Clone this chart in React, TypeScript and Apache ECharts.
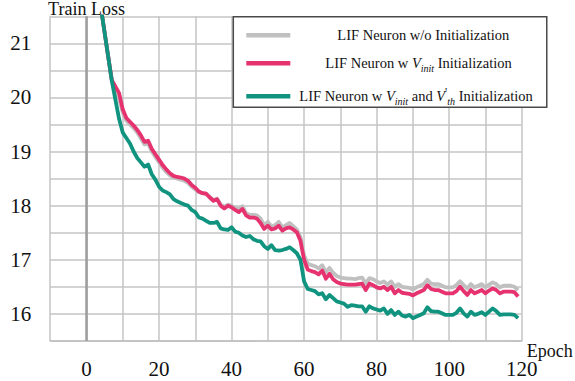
import React, { useEffect, useRef } from 'react';
import * as echarts from 'echarts';

// Train loss per epoch (epochs 1..119)
const lossWoInit: number[] = [
  23.4, 22.75, 22.15, 21.65, 21.2, 20.75, 20.3, 20.12, 19.98, 19.72,
  19.57, 19.5, 19.43, 19.35, 19.24, 19.13, 19.15, 19.0, 18.9, 18.8,
  18.7, 18.62, 18.56, 18.52, 18.5, 18.48, 18.46, 18.42, 18.35, 18.3,
  18.25, 18.23, 18.22, 18.16, 18.1, 18.13, 18.02, 17.98, 18.02, 18.0,
  17.96, 17.94, 17.99, 17.86, 17.83, 17.83, 17.82, 17.76, 17.64, 17.7,
  17.62, 17.64, 17.7, 17.6, 17.64, 17.68, 17.62, 17.56, 17.42, 17.08,
  16.93, 16.9, 16.88, 16.84, 16.9, 16.77, 16.85, 16.76, 16.7, 16.67,
  16.66, 16.65, 16.65, 16.64, 16.66, 16.67, 16.56, 16.66, 16.64, 16.6,
  16.57, 16.6, 16.54, 16.6, 16.5, 16.55, 16.5, 16.49, 16.48, 16.45,
  16.49, 16.52, 16.55, 16.63, 16.56, 16.55, 16.55, 16.52, 16.49, 16.49,
  16.49, 16.53, 16.6, 16.53, 16.47, 16.55, 16.49, 16.52, 16.55, 16.49,
  16.54, 16.58, 16.55, 16.49, 16.52, 16.52, 16.52, 16.5, 16.44,
];

const lossVinit: number[] = [
  23.4, 22.75, 22.15, 21.65, 21.2, 20.75, 20.32, 20.2, 20.08, 19.78,
  19.62, 19.55, 19.48, 19.4, 19.3, 19.18, 19.2, 19.05, 18.95, 18.85,
  18.75, 18.67, 18.6, 18.55, 18.53, 18.52, 18.5, 18.46, 18.38, 18.33,
  18.26, 18.23, 18.22, 18.15, 18.09, 18.12, 18.0, 17.95, 18.0, 17.97,
  17.92, 17.88, 17.94, 17.82, 17.78, 17.78, 17.76, 17.68, 17.57, 17.63,
  17.56, 17.58, 17.63, 17.54, 17.58, 17.6, 17.56, 17.51, 17.35, 17.0,
  16.82, 16.79, 16.77, 16.73, 16.8, 16.65, 16.74, 16.64, 16.59, 16.56,
  16.55, 16.54, 16.54, 16.54, 16.55, 16.56, 16.44, 16.56, 16.53, 16.49,
  16.47, 16.5, 16.44, 16.5, 16.38, 16.44, 16.39, 16.38, 16.37, 16.34,
  16.38, 16.41, 16.44, 16.53, 16.46, 16.44, 16.44, 16.41, 16.38, 16.38,
  16.38, 16.42, 16.5, 16.42, 16.35, 16.44, 16.38, 16.41, 16.44, 16.38,
  16.43, 16.47, 16.44, 16.38, 16.41, 16.41, 16.41, 16.4, 16.32,
];

const lossVinitVth: number[] = [
  23.4, 22.75, 22.15, 21.65, 21.2, 20.75, 20.3, 19.95, 19.6, 19.35,
  19.25, 19.15, 19.0, 18.88, 18.8, 18.72, 18.76, 18.58, 18.48, 18.35,
  18.28, 18.25, 18.21, 18.12, 18.08, 18.05, 18.02, 18.0, 17.92, 17.88,
  17.78, 17.76, 17.72, 17.68, 17.68, 17.7, 17.58, 17.56, 17.55, 17.6,
  17.52, 17.5, 17.45, 17.42, 17.44, 17.38, 17.35, 17.34, 17.25, 17.2,
  17.27, 17.18, 17.17, 17.18, 17.2, 17.23, 17.18, 17.12, 17.0, 16.6,
  16.46, 16.44, 16.42, 16.36, 16.38, 16.27, 16.35, 16.29, 16.23, 16.21,
  16.19, 16.13, 16.16, 16.15, 16.14, 16.14, 16.04, 16.14, 16.1, 16.08,
  16.06, 16.1, 16.0, 16.07, 15.98, 16.04, 15.97, 15.95, 15.98, 15.92,
  15.95, 15.98, 16.01, 16.12, 16.05, 16.04, 16.04, 16.01, 15.98, 15.98,
  15.98, 16.02, 16.1, 16.01, 15.95, 16.04, 15.98, 16.0, 16.03, 15.98,
  16.04, 16.1, 16.05, 15.98, 15.99, 15.99, 15.99, 15.98, 15.92,
];

const seriesNames = [
  'LIF Neuron w/o Initialization',
  'LIF Neuron w V_init Initialization',
  "LIF Neuron w V_init and V'_th Initialization",
];
const legendRich = [
  '{n|LIF Neuron w/o Initialization}',
  '{n|LIF Neuron w }{v|V}{s|init}{n| Initialization}',
  "{n|LIF Neuron w }{v|V}{s|init}{n| and }{v|V}{p|'}{s|th}{n| Initialization}",
];
const seriesColors = ['#c0c0c0', '#e6336f', '#10947f'];

const FONT = 'Liberation Serif, Times New Roman, serif';

function toPoints(values: number[]) {
  return values.map((v, i) => [i + 1, v]);
}

export default function App() {
  const ref = useRef<HTMLDivElement>(null);
  useEffect(() => {
    if (!ref.current) return;
    const chart = echarts.init(ref.current, null, { renderer: 'svg' });
    const allData = [lossWoInit, lossVinit, lossVinitVth];
    chart.setOption({
      animation: false,
      backgroundColor: '#ffffff',
      textStyle: { fontFamily: FONT },
      grid: {
        left: 50.2,
        right: 53.3,
        top: 16.3,
        bottom: 40.1,
        outerBoundsMode: 'none',
        containLabel: false,
      },
      xAxis: {
        type: 'value',
        min: -10,
        max: 120,
        interval: 10,
        name: 'Epoch',
        nameLocation: 'end',
        nameGap: 5,
        nameMoveOverlap: false,
        nameTextStyle: {
          fontFamily: FONT,
          fontSize: 18,
          color: '#111',
          align: 'left',
          verticalAlign: 'top',
          padding: [1, 0, 0, 0],
        },
        axisLine: { show: true, lineStyle: { color: '#c0c0c0', width: 1.5 } },
        axisTick: { show: false },
        axisLabel: {
          fontFamily: FONT,
          fontSize: 21,
          color: '#111',
          margin: 18,
          showMinLabel: true,
          showMaxLabel: true,
          formatter: (v: number) => (v >= 0 && v % 20 === 0 ? String(v) : ''),
        },
        splitLine: { show: true, lineStyle: { color: '#c4c4c4', width: 1.5 } },
      },
      yAxis: {
        type: 'value',
        min: 15.5,
        max: 21.5,
        interval: 0.5,
        name: 'Train Loss',
        nameLocation: 'end',
        nameGap: -2,
        nameMoveOverlap: false,
        nameTextStyle: { fontFamily: FONT, fontSize: 18, color: '#111' },
        axisLine: { show: false },
        axisTick: { show: false },
        axisLabel: {
          fontFamily: FONT,
          fontSize: 21,
          color: '#111',
          margin: 19,
          formatter: (v: number) => (Number.isInteger(v) ? String(v) : ''),
        },
        splitLine: { show: true, lineStyle: { color: '#c4c4c4', width: 1.5 } },
      },
      legend: {
        show: true,
        orient: 'vertical',
        left: 233.3,
        top: 16.7,
        icon: 'rect',
        itemWidth: 44,
        itemHeight: 4.5,
        itemGap: 13,
        padding: [11, 14, 1, 13],
        backgroundColor: '#ffffff',
        borderColor: '#4a4a4a',
        borderWidth: 1.5,
        selectedMode: false,
        data: [
          { name: seriesNames[0], textStyle: { padding: [0, 0, 0, 42] } },
          { name: seriesNames[1], textStyle: { padding: [0, 0, 0, 30] } },
          { name: seriesNames[2], textStyle: { padding: [0, 0, 0, 4] } },
        ],
        formatter: (name: string) => legendRich[seriesNames.indexOf(name)],
        textStyle: {
          fontFamily: FONT,
          fontSize: 14.5,
          color: '#111',
          rich: {
            n: { fontFamily: FONT, fontSize: 14.5, color: '#111', lineHeight: 20 },
            v: { fontFamily: FONT, fontSize: 14.5, fontStyle: 'italic', color: '#111', lineHeight: 20 },
            s: { fontFamily: FONT, fontSize: 10, fontStyle: 'italic', color: '#111', lineHeight: 12, verticalAlign: 'bottom' },
            p: { fontFamily: FONT, fontSize: 12, color: '#111', lineHeight: 12, verticalAlign: 'top' },
          },
        },
      },
      series: allData.map((d, i) => ({
        name: seriesNames[i],
        type: 'line',
        data: toPoints(d),
        symbol: 'none',
        clip: true,
        lineStyle: { color: seriesColors[i], width: 3.8, join: 'round' },
        itemStyle: { color: seriesColors[i] },
        z: 2 + i,
        markLine:
          i === 0
            ? {
                silent: true,
                symbol: 'none',
                label: { show: false },
                lineStyle: { color: '#9e9e9e', width: 2.5, type: 'solid' },
                data: [{ xAxis: 0 }],
              }
            : undefined,
      })),
    });
    return () => chart.dispose();
  }, []);
  return <div ref={ref} style={{ width: 575, height: 381, position: 'absolute', left: 0, top: 0 }} />;
}
